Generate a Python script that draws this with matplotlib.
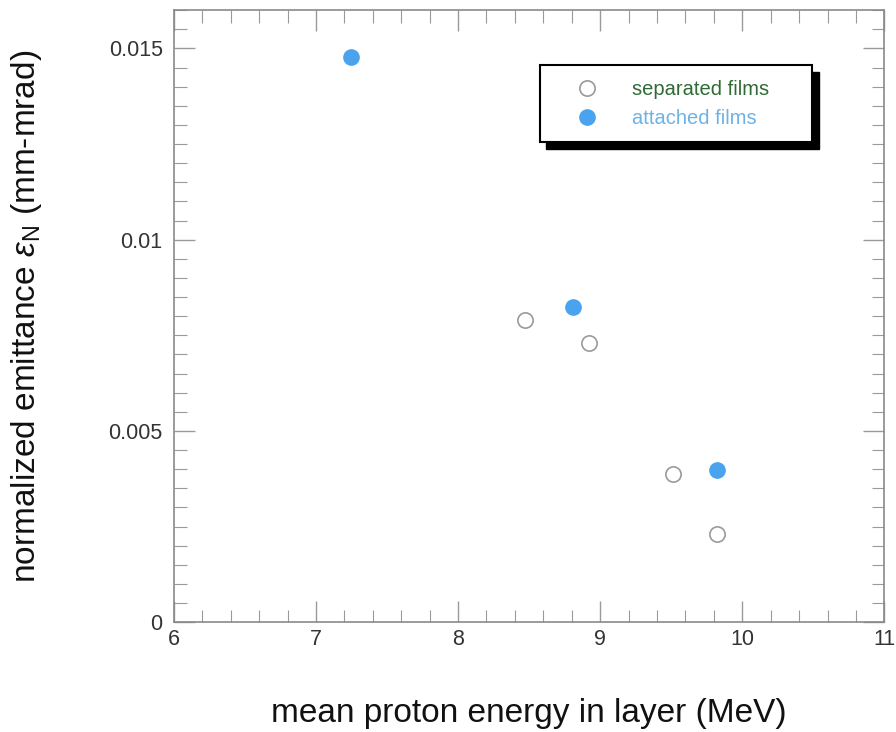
import numpy as np
import matplotlib
matplotlib.use('Agg')
import matplotlib.pyplot as plt
from matplotlib.patches import Rectangle
from matplotlib.ticker import MultipleLocator

plt.rcParams['font.family'] = ['Liberation Sans', 'DejaVu Sans']
plt.rcParams['mathtext.fontset'] = 'custom'
plt.rcParams['mathtext.rm'] = 'Liberation Sans'
plt.rcParams['mathtext.it'] = 'Liberation Sans:italic'

# data
sep_energy = [8.47, 8.92, 9.51, 9.82]
sep_emit = [0.0079, 0.0073, 0.00387, 0.0023]
att_energy = [7.25, 8.81, 9.82]
att_emit = [0.01477, 0.00824, 0.00397]

labels = ['separated films', 'attached films']

fig = plt.figure(figsize=(8.96, 7.32), dpi=100)
ax = fig.add_axes([0.194, 0.150, 0.793, 0.836])

ax.plot(sep_energy, sep_emit, ls='none', marker='o', ms=11, mfc='white',
        mec='#9a9a9a', mew=1.2, label=labels[0], zorder=3)
ax.plot(att_energy, att_emit, ls='none', marker='o', ms=11, mfc='#4aa3ee',
        mec='#4aa3ee', mew=1.0, label=labels[1], zorder=3)

ax.set_xlim(6, 11)
ax.set_ylim(0, 0.016)
ax.xaxis.set_major_locator(MultipleLocator(1))
ax.xaxis.set_minor_locator(MultipleLocator(0.2))
ax.yaxis.set_minor_locator(MultipleLocator(0.0005))
ax.set_yticks([0, 0.005, 0.01, 0.015])
ax.set_yticklabels(['0', '0.005', '0.01', '0.015'])

for s in ax.spines.values():
    s.set_color('#8a8a8a')
    s.set_linewidth(1.2)

ax.tick_params('both', which='major', direction='in', length=15, width=1.0,
               color='#9a9a9a', top=True, right=True, labelsize=15.5,
               labelcolor='#333333')
ax.tick_params('x', which='major', pad=5)
ax.tick_params('y', which='major', pad=8)
ax.tick_params('both', which='minor', direction='in', length=9, width=0.8,
               color='#9a9a9a', top=True, right=True)

ax.set_xlabel('mean proton energy in layer (MeV)', fontsize=24,
              color='#111111', va='center')
ax.set_ylabel(r'normalized emittance $\varepsilon_{\mathrm{N}}$ (mm-mrad)',
              fontsize=24, color='#111111', va='center')
ax.xaxis.set_label_coords(0.5, -0.149)
ax.yaxis.set_label_coords(-0.207, 0.5)

# legend box with heavy shadow
x0, x1, y0, y1 = 0.5155, 0.8986, 0.784, 0.910
ax.add_patch(Rectangle((x0 + 0.009, y0 - 0.011), x1 - x0, y1 - y0,
                       transform=ax.transAxes, facecolor='black',
                       edgecolor='black', zorder=5))
ax.add_patch(Rectangle((x0, y0), x1 - x0, y1 - y0, transform=ax.transAxes,
                       facecolor='white', edgecolor='black', lw=1.5, zorder=6))
leg = ax.legend(loc='center', bbox_to_anchor=((x0 + x1) / 2 - 0.008, (y0 + y1) / 2),
                frameon=False, fontsize=14.5, handletextpad=1.5,
                labelspacing=0.5, numpoints=1, handlelength=1.5)
leg.set_zorder(7)
for txt, c in zip(leg.get_texts(), ['#2e6b35', '#6cb2e6']):
    txt.set_color(c)

fig.savefig('out.png', dpi=100)
